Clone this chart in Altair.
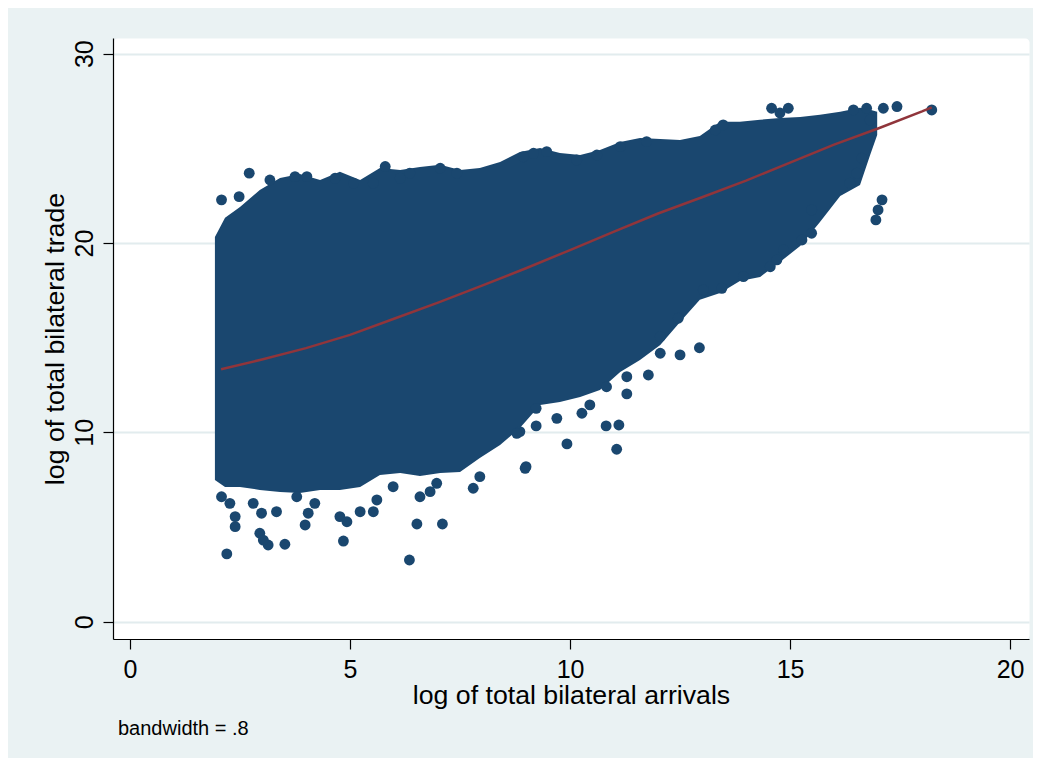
import altair as alt
import pandas as pd

# ---- values ----
# Dense core of the scatter cloud: x positions with the lower / upper edge of the solid mass
cloud_x = [1.93, 2.16, 2.50, 2.95, 3.41, 3.86, 4.32, 4.77, 5.23, 5.68, 6.14, 6.59, 7.05, 7.50,
           7.95, 8.41, 8.86, 9.32, 9.77, 10.23, 10.68, 11.14, 11.59, 12.05, 12.50, 12.95, 13.41,
           13.86, 14.32, 14.77, 15.23, 15.68, 16.14, 16.59, 16.82, 16.98]
cloud_hi = [20.32, 21.33, 21.91, 22.80, 23.44, 23.65, 23.33, 23.76, 23.33, 23.97, 23.86, 24.02,
            24.13, 23.86, 23.97, 24.28, 24.81, 25.02, 24.76, 24.65, 24.92, 25.34, 25.55, 25.50,
            25.44, 25.66, 26.40, 26.40, 26.51, 26.61, 26.66, 26.77, 26.93, 27.14, 27.04, 26.93]
cloud_lo = [7.49, 7.12, 7.12, 6.96, 6.85, 6.80, 6.96, 6.96, 7.12, 7.75, 7.86, 7.70, 7.86, 7.91,
            8.65, 9.33, 10.23, 11.45, 11.61, 11.87, 12.24, 13.19, 13.82, 14.62, 15.83, 17.00,
            17.36, 18.00, 18.21, 19.00, 19.84, 21.11, 22.48, 23.07, 24.65, 25.71]

# Individual observations at the fringe of the cloud (log arrivals, log trade)
pt_x = [2.08, 2.48, 2.71, 3.18, 3.75, 4.02, 4.66, 5.08, 5.53, 5.80, 6.14, 6.36, 7.05, 7.43,
        8.94, 9.17, 9.47, 10.15, 10.61, 11.14, 11.74, 13.30, 13.48, 14.58, 14.96, 14.77,
        16.44, 16.74, 17.12, 17.43, 16.82, 18.22, 17.09, 17.00, 16.95, 16.63, 16.52, 16.36,
        15.49, 15.49, 15.27, 14.85, 14.70, 14.55, 13.94, 13.45, 13.03, 12.46, 12.05, 12.05,
        12.50, 12.94, 11.78, 11.29, 11.29, 10.83, 10.45, 10.27, 9.70, 9.23, 9.23, 8.86,
        10.82, 11.11, 9.93, 11.06, 9.00, 2.20, 2.39, 2.39, 2.08, 2.27, 2.99, 3.33, 2.95,
        3.14, 3.52, 3.98, 4.05, 4.20, 4.77, 4.93, 5.23, 5.53, 5.61, 4.85, 5.98, 6.52, 7.10,
        6.35, 6.59, 6.82, 6.97, 7.80, 7.95, 8.98, 8.79, 3.03, 2.80, 3.79]
pt_y = [22.28, 22.45, 23.69, 23.33, 23.51, 23.51, 23.42, 23.16, 23.16, 24.04, 23.42, 23.69,
        23.95, 23.69, 24.56, 24.74, 24.83, 24.39, 24.65, 25.09, 25.36, 25.97, 26.24, 27.12,
        27.12, 26.87, 27.03, 27.12, 27.12, 27.21, 26.50, 27.03, 22.28, 21.75, 21.22, 24.48,
        23.69, 23.16, 21.75, 20.52, 20.16, 19.64, 19.11, 18.75, 18.23, 17.61, 17.52, 16.03,
        15.06, 14.18, 14.09, 14.47, 13.03, 12.94, 12.03, 12.41, 11.45, 11.01, 10.74, 11.27,
        10.34, 10.04, 10.34, 10.39, 9.39, 9.11, 8.19, 3.58, 5.55, 5.02, 6.60, 6.25, 5.73,
        5.81, 4.67, 4.05, 4.09, 5.11, 5.73, 6.25, 5.55, 5.28, 5.81, 5.81, 6.43, 4.26, 7.13,
        5.16, 5.16, 3.26, 6.60, 6.87, 7.31, 7.05, 7.66, 8.10, 9.95, 4.31, 6.25, 6.60]

# Lowess smooth (bandwidth .8)
low_x = [2.07, 3, 4, 5, 6, 7, 8, 9, 10, 11, 12, 13, 14, 15, 16, 17, 18, 18.22]
low_y = [13.33, 13.85, 14.45, 15.15, 16.00, 16.85, 17.75, 18.67, 19.63, 20.60, 21.56, 22.42,
         23.30, 24.25, 25.20, 26.05, 26.95, 27.17]

x_ticks = [0, 5, 10, 15, 20]
y_ticks = [0, 10, 20, 30]
x_title = "log of total bilateral arrivals"
y_title = "log of total bilateral trade"
note_text = "bandwidth = .8"

NAVY = "#1a476f"
MAROON = "#90353b"
FONT = "Liberation Sans"

cloud_df = pd.DataFrame({"x": cloud_x, "lo": cloud_lo, "hi": cloud_hi})
pts_df = pd.DataFrame({"x": pt_x, "y": pt_y})
low_df = pd.DataFrame({"x": low_x, "y": low_y})
note_df = pd.DataFrame({"note": [note_text]})

xscale = alt.Scale(domain=[-0.386, 20.43], nice=False, zero=False)
yscale = alt.Scale(domain=[-0.914, 30.83], nice=False, zero=False)

xaxis = alt.Axis(values=x_ticks, title=x_title, grid=False, tickSize=10,
                 labelPadding=28, labelBaseline="alphabetic", labelFontSize=25,
                 titleFontSize=26.7, titleY=64, titleBaseline="alphabetic",
                 labelFlush=False)
yaxis = alt.Axis(values=y_ticks, title=y_title, grid=True, tickSize=10,
                 labelAngle=270, labelAlign="center", labelBaseline="alphabetic",
                 labelPadding=11, labelFontSize=25, titleFontSize=26.7,
                 titleX=-50, titleBaseline="alphabetic", labelFlush=False)

area = alt.Chart(cloud_df).mark_area(color=NAVY, opacity=1).encode(
    x=alt.X("x:Q", scale=xscale, axis=xaxis),
    y=alt.Y("lo:Q", scale=yscale, axis=yaxis),
    y2="hi:Q",
)

points = alt.Chart(pts_df).mark_circle(color=NAVY, opacity=1, size=118).encode(
    x=alt.X("x:Q", scale=xscale),
    y=alt.Y("y:Q", scale=yscale),
)

line = alt.Chart(low_df).mark_line(color=MAROON, strokeWidth=2.5).encode(
    x=alt.X("x:Q", scale=xscale),
    y=alt.Y("y:Q", scale=yscale),
)

note = alt.Chart(note_df).mark_text(
    align="left", baseline="alphabetic", fontSize=20, font=FONT, color="#000000"
).encode(text="note:N", x=alt.value(5), y=alt.value(697))

chart = alt.layer(area, points, line, note).properties(
    width=916,
    height=601,
    background="#eaf2f3",
    padding={"left": 105, "top": 30, "right": 4, "bottom": 119},
    autosize=alt.AutoSizeParams(type="none"),
).configure_view(
    fill="white", stroke="transparent", cornerRadius=4
).configure_axis(
    domainColor="#000000", domainWidth=1.2, tickColor="#000000", tickWidth=1.2,
    labelColor="#000000", titleColor="#000000", labelFont=FONT, titleFont=FONT,
    titleFontWeight="normal", gridColor="#e2ecee", gridWidth=2,
)

chart.save("out.html", embed_options={"renderer": "svg", "actions": False})
